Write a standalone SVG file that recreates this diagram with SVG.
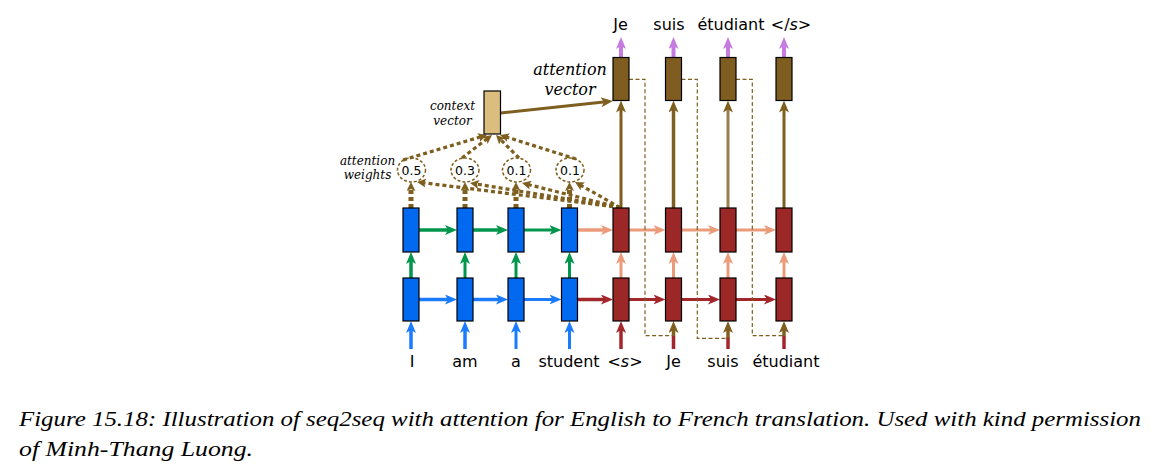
<svg xmlns="http://www.w3.org/2000/svg" width="1164" height="470" viewBox="0 0 1164 470">
<style>
.bg{fill:#ffffff}
.box{stroke:#000;stroke-width:1.2}
.enc{fill:#0069f0}
.dec{fill:#9b2727}
.att{fill:#7f5c20}
.ctx{fill:#dbbe7e}
.a{fill:none;stroke-width:3}
.in{stroke-width:3.5}
.blue{stroke:#1a7bff;marker-end:url(#ah-blue)}
.green{stroke:#00964b;marker-end:url(#ah-green)}
.salmon{stroke:#eb9b79;marker-end:url(#ah-salmon)}
.red{stroke:#a3262b;marker-end:url(#ah-red)}
.brown{stroke:#7f5f1f;marker-end:url(#ah-brown)}
.purple{stroke:#c57be0;stroke-width:4;marker-end:url(#ah-purple)}
.dv{fill:none;stroke:#7f5f1f;stroke-width:5;stroke-dasharray:4 3;marker-end:url(#ah-brown-s)}
.dd{fill:none;stroke:#7f5f1f;stroke-width:3.2;stroke-dasharray:4 3;marker-end:url(#ah-brown-s)}
.fb{fill:none;stroke:#7f5f1f;stroke-width:1.2;stroke-dasharray:4 2.5}
.ell{fill:none;stroke:#7f5f1f;stroke-width:1.5;stroke-dasharray:3 2}
.lbl{font-family:"DejaVu Sans",sans-serif;font-size:16px;fill:#000;text-anchor:middle}
.num{font-family:"DejaVu Sans",sans-serif;font-size:12.5px;fill:#000;text-anchor:middle}
.it{font-family:"DejaVu Serif",serif;font-style:italic;fill:#000;text-anchor:middle}
.cap{font-family:"Liberation Serif","Times New Roman",serif;font-style:italic;font-size:21px;fill:#000}
</style>
<defs>
<marker id="ah-blue" viewBox="0 0 12 10" refX="5" refY="5" markerWidth="12" markerHeight="10" orient="auto" markerUnits="userSpaceOnUse"><path d="M0,0 L12,5 L0,10 L3,5 Z" fill="#1a7bff"/></marker>
<marker id="ah-green" viewBox="0 0 12 10" refX="5" refY="5" markerWidth="12" markerHeight="10" orient="auto" markerUnits="userSpaceOnUse"><path d="M0,0 L12,5 L0,10 L3,5 Z" fill="#00964b"/></marker>
<marker id="ah-salmon" viewBox="0 0 12 10" refX="5" refY="5" markerWidth="12" markerHeight="10" orient="auto" markerUnits="userSpaceOnUse"><path d="M0,0 L12,5 L0,10 L3,5 Z" fill="#eb9b79"/></marker>
<marker id="ah-red" viewBox="0 0 12 10" refX="5" refY="5" markerWidth="12" markerHeight="10" orient="auto" markerUnits="userSpaceOnUse"><path d="M0,0 L12,5 L0,10 L3,5 Z" fill="#a3262b"/></marker>
<marker id="ah-brown" viewBox="0 0 12 10" refX="5" refY="5" markerWidth="12" markerHeight="10" orient="auto" markerUnits="userSpaceOnUse"><path d="M0,0 L12,5 L0,10 L3,5 Z" fill="#7f5f1f"/></marker>
<marker id="ah-purple" viewBox="0 0 12 10" refX="5" refY="5" markerWidth="12" markerHeight="10" orient="auto" markerUnits="userSpaceOnUse"><path d="M0,0 L12,5 L0,10 L3,5 Z" fill="#c57be0"/></marker>
<marker id="ah-brown-s" viewBox="0 0 9 9" refX="3" refY="4.5" markerWidth="9" markerHeight="9" orient="auto" markerUnits="userSpaceOnUse"><path d="M0,0 L9,4.5 L0,9 L2,4.5 Z" fill="#7f5f1f"/></marker>
</defs>
<rect class="bg" x="0" y="0" width="1164" height="470"/>

<g id="connectors">
  <line class="a in blue" x1="411" y1="349" x2="411" y2="328"/>
  <line class="a in blue" x1="465" y1="349" x2="465" y2="328"/>
  <line class="a blue" x1="516" y1="349" x2="516" y2="328"/>
  <line class="a blue" x1="569.5" y1="349" x2="569.5" y2="328"/>
  <line class="a in red" x1="621" y1="349" x2="621" y2="328"/>
  <line class="a in" stroke="#a3262b" x1="673.5" y1="349" x2="673.5" y2="336"/>
  <line class="a in" stroke="#a3262b" x1="728" y1="349" x2="728" y2="337"/>
  <line class="a in" stroke="#a3262b" x1="784" y1="349" x2="784" y2="336"/>
  <line class="a in brown" x1="673.5" y1="336" x2="673.5" y2="328"/>
  <line class="a in brown" x1="728" y1="338" x2="728" y2="328"/>
  <line class="a in brown" x1="784" y1="336" x2="784" y2="328"/>
  <line class="a in blue" x1="419" y1="299.5" x2="450" y2="299.5"/>
  <line class="a in blue" x1="473" y1="299.5" x2="501" y2="299.5"/>
  <line class="a blue" x1="524" y1="299.5" x2="554.5" y2="299.5"/>
  <line class="a in red" x1="577.5" y1="299.5" x2="606" y2="299.5"/>
  <line class="a red" x1="629" y1="299.5" x2="658.5" y2="299.5"/>
  <line class="a red" x1="681.5" y1="299.5" x2="713" y2="299.5"/>
  <line class="a red" x1="736" y1="299.5" x2="769" y2="299.5"/>
  <line class="a in green" x1="411" y1="278" x2="411" y2="259"/>
  <line class="a green" x1="465" y1="278" x2="465" y2="259"/>
  <line class="a green" x1="516" y1="278" x2="516" y2="259"/>
  <line class="a green" x1="569.5" y1="278" x2="569.5" y2="259"/>
  <line class="a salmon" x1="621" y1="278" x2="621" y2="259"/>
  <line class="a salmon" x1="673.5" y1="278" x2="673.5" y2="259"/>
  <line class="a salmon" x1="728" y1="278" x2="728" y2="259"/>
  <line class="a salmon" x1="784" y1="278" x2="784" y2="259"/>
  <line class="a in green" x1="419" y1="230" x2="450" y2="230"/>
  <line class="a in green" x1="473" y1="230" x2="501" y2="230"/>
  <line class="a green" x1="524" y1="230" x2="554.5" y2="230"/>
  <line class="a in salmon" x1="577.5" y1="230" x2="606" y2="230"/>
  <line class="a salmon" x1="629" y1="230" x2="658.5" y2="230"/>
  <line class="a salmon" x1="681.5" y1="230" x2="713" y2="230"/>
  <line class="a salmon" x1="736" y1="230" x2="769" y2="230"/>
  <line class="a brown" x1="621" y1="208" x2="621" y2="107.5"/>
  <line class="a in brown" x1="673.5" y1="208" x2="673.5" y2="107.5"/>
  <line class="a brown" x1="728" y1="208" x2="728" y2="107.5" stroke-opacity="0.8"/>
  <line class="a brown" x1="784" y1="208" x2="784" y2="107.5"/>
  <line class="purple" x1="621" y1="57" x2="621" y2="44"/>
  <line class="purple" x1="673.5" y1="57" x2="673.5" y2="44"/>
  <line class="purple" x1="728" y1="57" x2="728" y2="44"/>
  <line class="purple" x1="784" y1="57" x2="784" y2="44"/>
  <polyline class="fb" points="629,79.3 645,79.3 645,335.7 673.5,335.7"/>
  <polyline class="fb" points="681.5,79.3 697.3,79.3 697.3,338.3 728,338.3"/>
  <polyline class="fb" points="736,79.3 752.3,79.3 752.3,335.7 784,335.7"/>
  <line class="a brown" stroke-width="2.5" x1="500.5" y1="113" x2="606" y2="101.7"/>
  <line class="dv" x1="411" y1="208" x2="411" y2="188"/>
  <line class="dv" x1="465" y1="208" x2="465" y2="188"/>
  <line class="dv" x1="516" y1="208" x2="516" y2="188"/>
  <line class="dv" x1="569.5" y1="208" x2="569.5" y2="188"/>
  <line class="dd" x1="620" y1="207.5" x2="422.95" y2="182.75"/>
  <line class="dd" x1="620" y1="207.5" x2="475.92" y2="183.97"/>
  <line class="dd" x1="620" y1="207.5" x2="527.82" y2="184.46"/>
  <line class="dd" x1="620" y1="207.5" x2="580.22" y2="184.96"/>
  <line class="dd" x1="403" y1="160" x2="481.25" y2="136.71"/>
  <line class="dd" x1="462" y1="158" x2="487.24" y2="138.65"/>
  <line class="dd" x1="519" y1="158" x2="500.24" y2="139.24"/>
  <line class="dd" x1="576" y1="159" x2="505.72" y2="136.81"/>
</g>

<g id="enc-bottom-1"><rect class="box enc" x="403" y="278" width="16" height="43"/></g>
<g id="enc-bottom-2"><rect class="box enc" x="457" y="278" width="16" height="43"/></g>
<g id="enc-bottom-3"><rect class="box enc" x="508" y="278" width="16" height="43"/></g>
<g id="enc-bottom-4"><rect class="box enc" x="561.5" y="278" width="16" height="43"/></g>
<g id="enc-top-1"><rect class="box enc" x="403" y="208" width="16" height="44"/></g>
<g id="enc-top-2"><rect class="box enc" x="457" y="208" width="16" height="44"/></g>
<g id="enc-top-3"><rect class="box enc" x="508" y="208" width="16" height="44"/></g>
<g id="enc-top-4"><rect class="box enc" x="561.5" y="208" width="16" height="44"/></g>
<g id="dec-bottom-1"><rect class="box dec" x="613" y="278" width="16" height="43"/></g>
<g id="dec-bottom-2"><rect class="box dec" x="665.5" y="278" width="16" height="43"/></g>
<g id="dec-bottom-3"><rect class="box dec" x="720" y="278" width="16" height="43"/></g>
<g id="dec-bottom-4"><rect class="box dec" x="776" y="278" width="16" height="43"/></g>
<g id="dec-top-1"><rect class="box dec" x="613" y="208" width="16" height="44"/></g>
<g id="dec-top-2"><rect class="box dec" x="665.5" y="208" width="16" height="44"/></g>
<g id="dec-top-3"><rect class="box dec" x="720" y="208" width="16" height="44"/></g>
<g id="dec-top-4"><rect class="box dec" x="776" y="208" width="16" height="44"/></g>
<g id="att-vec-1"><rect class="box att" x="613" y="57.5" width="16" height="43"/></g>
<g id="att-vec-2"><rect class="box att" x="665.5" y="57.5" width="16" height="43"/></g>
<g id="att-vec-3"><rect class="box att" x="720" y="57.5" width="16" height="43"/></g>
<g id="att-vec-4"><rect class="box att" x="776" y="57.5" width="16" height="43"/></g>
<g id="context-vector"><rect class="box ctx" x="484" y="91" width="16.5" height="43"/></g>

<g id="weight-1"><ellipse class="ell" cx="411.5" cy="170" rx="14" ry="12"/><text class="num" x="411.5" y="174.5">0.5</text></g>
<g id="weight-2"><ellipse class="ell" cx="465" cy="170" rx="14" ry="12"/><text class="num" x="465" y="174.5">0.3</text></g>
<g id="weight-3"><ellipse class="ell" cx="516.5" cy="170" rx="14" ry="12"/><text class="num" x="516.5" y="174.5">0.1</text></g>
<g id="weight-4"><ellipse class="ell" cx="570" cy="170" rx="14" ry="12"/><text class="num" x="570" y="174.5">0.1</text></g>

<g id="labels-in">
  <text class="lbl" x="412" y="367">I</text>
  <text class="lbl" x="465" y="367">am</text>
  <text class="lbl" x="516" y="367">a</text>
  <text class="lbl" x="569" y="367">student</text>
  <text class="lbl" x="625" y="367">&lt;<tspan font-style="italic">s</tspan>&gt;</text>
  <text class="lbl" x="673.5" y="367">Je</text>
  <text class="lbl" x="723" y="367">suis</text>
  <text class="lbl" x="786" y="367">étudiant</text>
</g>
<g id="labels-out">
  <text class="lbl" x="620.5" y="30">Je</text>
  <text class="lbl" x="669" y="30">suis</text>
  <text class="lbl" x="731" y="30">étudiant</text>
  <text class="lbl" x="791" y="30">&lt;/<tspan font-style="italic">s</tspan>&gt;</text>
</g>
<g id="annotations">
  <text class="it" font-size="16" x="570" y="75">attention</text>
  <text class="it" font-size="16" x="570" y="94.5">vector</text>
  <text class="it" font-size="12" x="452.5" y="110">context</text>
  <text class="it" font-size="12" x="452.5" y="124.5">vector</text>
  <text class="it" font-size="12" x="367.5" y="165">attention</text>
  <text class="it" font-size="12" x="367.5" y="179">weights</text>
</g>
<g id="caption">
  <text class="cap" x="19" y="426" textLength="1122" lengthAdjust="spacingAndGlyphs">Figure 15.18: Illustration of seq2seq with attention for English to French translation. Used with kind permission</text>
  <text class="cap" x="19" y="456" textLength="234" lengthAdjust="spacingAndGlyphs">of Minh-Thang Luong.</text>
</g>
</svg>
